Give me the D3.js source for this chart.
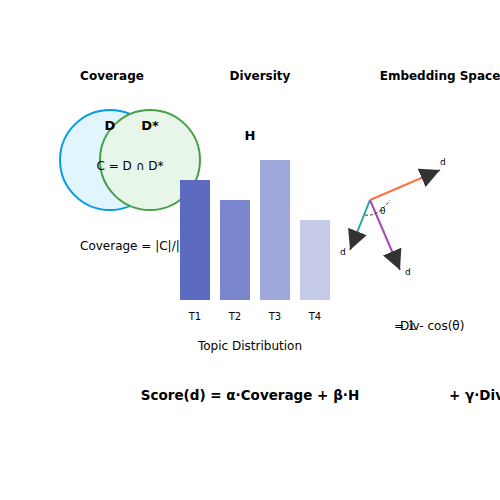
<!DOCTYPE html>
<html><head><meta charset="utf-8">
<script src="https://cdn.jsdelivr.net/npm/d3@7"></script>
<style>body{margin:0;background:#fff}text{font-family:"DejaVu Sans",sans-serif}</style>
</head><body><div id="chart"></div>
<script>
var topics = ['T1', 'T2', 'T3', 'T4'];
var topicValues = [0.30, 0.25, 0.35, 0.20];
var topicColors = ['#5c6bc0', '#7986cb', '#9fa8da', '#c5cae9'];
var vectors = [
  {dx: 70, dy: -30, color: '#ff7043', lx: 440, ly: 165},
  {dx: -20, dy: 50, color: '#26a69a', lx: 340, ly: 255},
  {dx: 30, dy: 70, color: '#ab47bc', lx: 405, ly: 275}
];

var svg = d3.select('#chart').append('svg').attr('width', 500).attr('height', 500);

svg.append('defs').append('marker')
  .attr('id', 'arr').attr('viewBox', '0 0 10 10').attr('refX', 10).attr('refY', 5)
  .attr('markerWidth', 20).attr('markerHeight', 20).attr('orient', 'auto')
  .attr('markerUnits', 'userSpaceOnUse')
  .append('path').attr('d', 'M0,0L10,5L0,10z').attr('fill', '#333');

// titles
[['Coverage', 112], ['Diversity', 260], ['Embedding Space', 440]].forEach(function(t) {
  svg.append('text').attr('x', t[1]).attr('y', 80).attr('text-anchor', 'middle')
    .attr('font-size', 12).attr('font-weight', 'bold').text(t[0]);
});

// venn
svg.append('circle').attr('cx', 110).attr('cy', 160).attr('r', 50)
  .attr('fill', '#e1f5fe').attr('stroke', '#039be5').attr('stroke-width', 2);
svg.append('circle').attr('cx', 150).attr('cy', 160).attr('r', 50)
  .attr('fill', '#e8f5e9').attr('stroke', '#43a047').attr('stroke-width', 2);
svg.append('text').attr('x', 110).attr('y', 130).attr('text-anchor', 'middle')
  .attr('font-size', 13).attr('font-weight', 'bold').text('D');
svg.append('text').attr('x', 150).attr('y', 130).attr('text-anchor', 'middle')
  .attr('font-size', 13).attr('font-weight', 'bold').text('D*');
svg.append('text').attr('x', 130).attr('y', 170).attr('text-anchor', 'middle')
  .attr('font-size', 12).text('C = D ∩ D*');
svg.append('text').attr('x', 80).attr('y', 250).attr('font-size', 12).text('Coverage = |C|/|D*|');

// topic bars
var x = d3.scaleBand().domain(topics).range([175, 335]).paddingInner(0.25).paddingOuter(0.125);
var y = d3.scaleLinear().domain([0, 0.35]).range([300, 160]);
svg.selectAll('rect.bar').data(topics).enter().append('rect').attr('class', 'bar')
  .attr('x', function(d) { return x(d); }).attr('width', x.bandwidth())
  .attr('y', function(d, i) { return y(topicValues[i]); })
  .attr('height', function(d, i) { return 300 - y(topicValues[i]); })
  .attr('fill', function(d, i) { return topicColors[i]; });
svg.selectAll('text.tl').data(topics).enter().append('text').attr('class', 'tl')
  .attr('x', function(d) { return x(d) + x.bandwidth() / 2; }).attr('y', 320)
  .attr('text-anchor', 'middle').attr('font-size', 10).text(function(d) { return d; });
svg.append('text').attr('x', 250).attr('y', 140).attr('text-anchor', 'middle')
  .attr('font-size', 13).attr('font-weight', 'bold').text('H');
svg.append('text').attr('x', 250).attr('y', 350).attr('text-anchor', 'middle')
  .attr('font-size', 12).text('Topic Distribution');

// embedding
var ox = 370, oy = 200;
vectors.forEach(function(v) {
  svg.append('line').attr('x1', ox).attr('y1', oy).attr('x2', ox + v.dx).attr('y2', oy + v.dy)
    .attr('stroke', v.color).attr('stroke-width', 2).attr('marker-end', 'url(#arr)');
  svg.append('text').attr('x', v.lx).attr('y', v.ly).attr('font-size', 9).text('d');
});
svg.append('path').attr('d', 'M365,215 Q378,217 390,200').attr('fill', 'none')
  .attr('stroke', '#333').attr('stroke-dasharray', '3,2');
svg.append('text').attr('x', 380).attr('y', 214).attr('font-size', 9).text('θ');
svg.append('text').attr('x', 400).attr('y', 330).attr('font-size', 12).text('Div');
svg.append('text').attr('x', 394).attr('y', 330).attr('font-size', 12).text('= 1 - cos(θ)');

// formula
svg.append('text').attr('x', 250).attr('y', 400).attr('text-anchor', 'middle')
  .attr('font-size', 13.5).attr('font-weight', 'bold').text('Score(d) = α·Coverage + β·H');
svg.append('text').attr('x', 449).attr('y', 400)
  .attr('font-size', 13.5).attr('font-weight', 'bold').text('+ γ·Div');
</script></body></html>
